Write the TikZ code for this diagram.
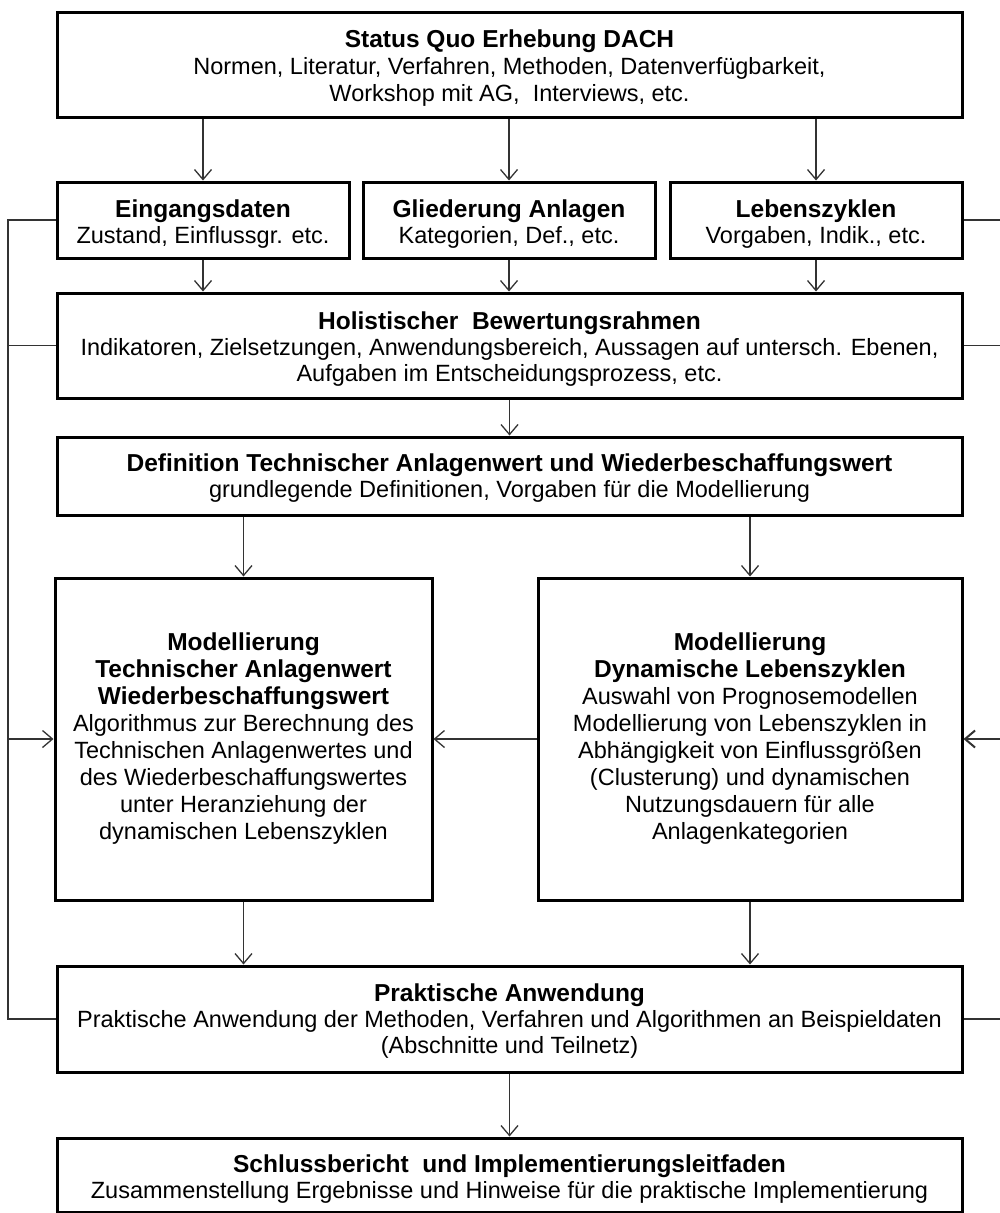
\documentclass[tikz,border=0pt]{standalone}
\usepackage{fontspec}
\setmainfont{Liberation Sans}
\usetikzlibrary{arrows.meta}
\newcommand\hd[1]{{\fontsize{24.5}{27}\selectfont\bfseries #1}}
\begin{document}
\begin{tikzpicture}[x=1pt,y=-1pt,
  box/.style={draw=black, line width=3pt, rectangle, inner sep=0pt},
  txt/.style={inner sep=0pt, align=center, font=\fontsize{23.5}{26}\selectfont},
  tall/.style={font=\fontsize{23.5}{27}\selectfont},
  arr/.style={-{Straight Barb[length=10pt,width=17pt]}, line width=1.3pt, draw=black!80},
  fb/.style={line width=1.3pt, draw=black!80}]
\useasboundingbox (0,0) rectangle (1000,1213);
\fill[white] (0,0) rectangle (1000,1213);

% boxes
\node[box, minimum width=905pt, minimum height=105pt] (sq) at (509.5,64.5) {};
\node[box, minimum width=292pt, minimum height=76pt] (ein) at (203,220) {};
\node[box, minimum width=292pt, minimum height=76pt] (gli) at (509,220) {};
\node[box, minimum width=292pt, minimum height=76pt] (leb) at (816,220) {};
\node[box, minimum width=905pt, minimum height=105pt] (hol) at (509.5,345.5) {};
\node[box, minimum width=905pt, minimum height=78pt] (def) at (509.5,476) {};
\node[box, minimum width=377pt, minimum height=322pt] (ml) at (243.5,739) {};
\node[box, minimum width=424pt, minimum height=322pt] (md) at (750,739) {};
\node[box, minimum width=905pt, minimum height=106pt] (pra) at (509.5,1019) {};
\node[box, minimum width=905pt, minimum height=74pt] (sch) at (509.5,1175) {};

% texts
\node[txt, tall] (sq-t) at ([yshift=-4pt]sq.center)
  {\hd{Status Quo Erhebung DACH}\\Normen, Literatur, Verfahren, Methoden, Datenverfügbarkeit,\\Workshop mit AG,\ \ Interviews, etc.};
\node[txt] (ein-t) at ([yshift=-4.5pt]ein.center)
  {\hd{Eingangsdaten}\\Zustand, Einflussgr. etc.};
\node[txt] (gli-t) at ([yshift=-4.5pt]gli.center)
  {\hd{Gliederung Anlagen}\\Kategorien, Def., etc.};
\node[txt] (leb-t) at ([yshift=-4.5pt]leb.center)
  {\hd{Lebenszyklen}\\Vorgaben, Indik., etc.};
\node[txt] (hol-t) at ([yshift=-3.5pt]hol.center)
  {\hd{Holistischer\ \ Bewertungsrahmen}\\Indikatoren, Zielsetzungen, Anwendungsbereich, Aussagen auf untersch. Ebenen,\\Aufgaben im Entscheidungsprozess, etc.};
\node[txt] (def-t) at ([yshift=-2pt]def.center)
  {\hd{Definition Technischer Anlagenwert und Wiederbeschaffungswert}\\grundlegende Definitionen, Vorgaben für die Modellierung};
\node[txt, tall] (ml-t) at ([yshift=0pt]ml.center)
  {\hd{Modellierung}\\\hd{Technischer Anlagenwert}\\\hd{Wiederbeschaffungswert}\\Algorithmus zur Berechnung des\\Technischen Anlagenwertes und\\des Wiederbeschaffungswertes\\unter Heranziehung der\\dynamischen Lebenszyklen};
\node[txt, tall] (md-t) at ([yshift=0pt]md.center)
  {\hd{Modellierung}\\\hd{Dynamische Lebenszyklen}\\Auswahl von Prognosemodellen\\Modellierung von Lebenszyklen in\\Abhängigkeit von Einflussgrößen\\(Clusterung) und dynamischen\\Nutzungsdauern für alle\\Anlagenkategorien};
\node[txt] (pra-t) at ([yshift=-2.5pt]pra.center)
  {\hd{Praktische Anwendung}\\Praktische Anwendung der Methoden, Verfahren und Algorithmen an Beispieldaten\\(Abschnitte und Teilnetz)};
\node[txt] (sch-t) at ([yshift=-4pt]sch.center)
  {\hd{Schlussbericht\ \ und Implementierungsleitfaden}\\Zusammenstellung Ergebnisse und Hinweise für die praktische Implementierung};

\coordinate (L) at (8,0);
\coordinate (R) at (1003,0);

% main flow
\draw[arr] (sq.south -| ein.north) -- (ein.north);
\draw[arr] (sq.south -| gli.north) -- (gli.north);
\draw[arr] (sq.south -| leb.north) -- (leb.north);
\draw[arr] (ein.south) -- (ein.south |- hol.north);
\draw[arr] (gli.south) -- (gli.south |- hol.north);
\draw[arr] (leb.south) -- (leb.south |- hol.north);
\draw[arr] (hol.south -| def.north) -- (def.north);
\draw[arr] (def.south -| ml.north) -- (ml.north);
\draw[arr] (def.south -| md.north) -- (md.north);
\draw[arr] (md.west) -- (md.west -| ml.east);
\draw[arr] (ml.south) -- (ml.south |- pra.north);
\draw[arr] (md.south) -- (md.south |- pra.north);
\draw[arr] (pra.south) -- (sch.north);

% left feedback
\draw[fb] (ein.west) -- (ein.west -| L) -- (pra.west -| L) -- (pra.west);
\draw[fb] (hol.west) -- (hol.west -| L);
\draw[arr] (ml.west -| L) -- (ml.west);

% right feedback
\draw[fb] (leb.east) -- (leb.east -| R) -- (pra.east -| R) -- (pra.east);
\draw[fb] (hol.east) -- (hol.east -| R);
\draw[arr, line width=2pt] (md.east -| R) -- (md.east);
\end{tikzpicture}
\end{document}
